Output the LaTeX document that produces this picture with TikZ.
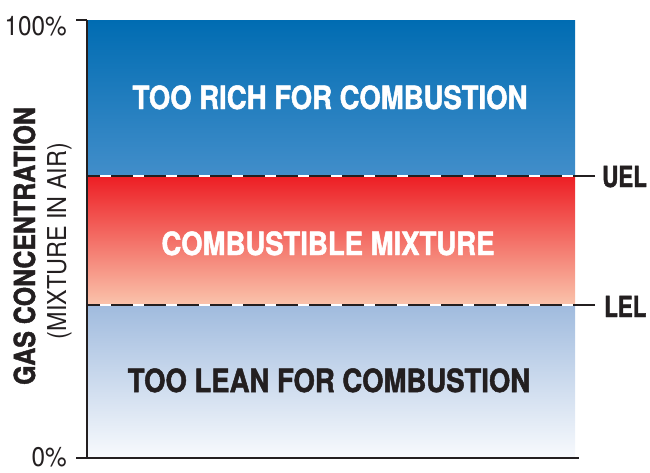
\documentclass[tikz,border=0pt]{standalone}
\usepackage{fontspec}
\newfontfamily\condbf[FakeStretch=0.86, BoldFeatures={FakeBold=1.5}]{TeX Gyre Heros}
\newfontfamily\narrowbf[FakeStretch=0.77, BoldFeatures={FakeBold=1.5}]{TeX Gyre Heros}
\newfontfamily\condlt[FakeStretch=0.9]{TeX Gyre Heros}
\definecolor{ink}{RGB}{35,31,32}
\definecolor{richtop}{RGB}{0,108,178}
\definecolor{richbot}{RGB}{66,142,202}
\definecolor{mixtop}{RGB}{237,30,36}
\definecolor{mixbot}{RGB}{250,196,172}
\definecolor{leantop}{RGB}{160,187,222}
\definecolor{leanbot}{RGB}{248,250,253}
\tikzset{
  zonelabel/.style={anchor=base, font=\condbf\bfseries\fontsize{32}{32}\selectfont},
  limitlabel/.style={anchor=base west, text=ink, inner sep=0pt, font=\narrowbf\bfseries\fontsize{29}{29}\selectfont},
  ticklabel/.style={anchor=base east, text=ink, inner sep=0pt, font=\condlt\fontsize{27}{27}\selectfont},
  axisline/.style={draw=ink, line width=2.2pt},
  limitline/.style={draw=ink, line width=2.6pt, dash pattern=on 22pt off 11pt},
  limitgap/.style={draw=white, line width=2.6pt}
}
\begin{document}
\begin{tikzpicture}[x=1pt,y=-1pt]
\useasboundingbox (0,0) rectangle (650,472);

% concentration bands
\shade[top color=richtop, bottom color=richbot] (87,20) rectangle (575,176);
\shade[top color=mixtop, bottom color=mixbot] (87,176) rectangle (575,305);
\shade[top color=leantop, bottom color=leanbot] (87,305) rectangle (575,458);

% limit lines
\coordinate (uelL) at (87,176);
\coordinate (uelB) at (575,176);
\coordinate (uelR) at (595,176);
\coordinate (lelL) at (87,305);
\coordinate (lelB) at (575,305);
\coordinate (lelR) at (595,305);
\draw[limitgap] (uelL) -- (uelB);
\draw[limitgap] (lelL) -- (lelB);
\draw[limitline] (uelR) -- (uelL);
\draw[limitline] (lelR) -- (lelL);

% axes
\coordinate (top) at (87,20);
\coordinate (toptick) at (76,20);
\coordinate (origin) at (87,458);
\coordinate (botleft) at (76,458);
\coordinate (botright) at (579,458);
\draw[axisline] (top) -- (origin);
\draw[draw=ink, line width=1.4pt] (toptick) -- (top);
\draw[axisline, line width=2.6pt] (botleft) -- (botright);

% band labels
\node[zonelabel, text=white] (rich) at (330,109) {TOO RICH FOR COMBUSTION};
\node[zonelabel, text=white] (mix) at (328,255) {COMBUSTIBLE MIXTURE};
\node[zonelabel, text=ink] (lean) at (329,392) {TOO LEAN FOR COMBUSTION};

% limit labels
\node[limitlabel] (uel) at (602,187) {UEL};
\node[limitlabel] (lel) at (604,317) {LEL};

% axis labels
\node[ticklabel] (hundred) at (67,35) {100\%};
\node[ticklabel] (zero) at (67,466) {0\%};
\node[anchor=base, rotate=90, text=ink, inner sep=0pt,
      font=\condbf\bfseries\fontsize{29}{29}\selectfont] (gas) at (35,246) {GAS CONCENTRATION};
\node[anchor=base, rotate=90, text=ink, inner sep=0pt,
      font=\condlt\fontsize{26}{26}\selectfont] (mixair) at (66,241) {(MIXTURE IN AIR)};
\end{tikzpicture}
\end{document}
